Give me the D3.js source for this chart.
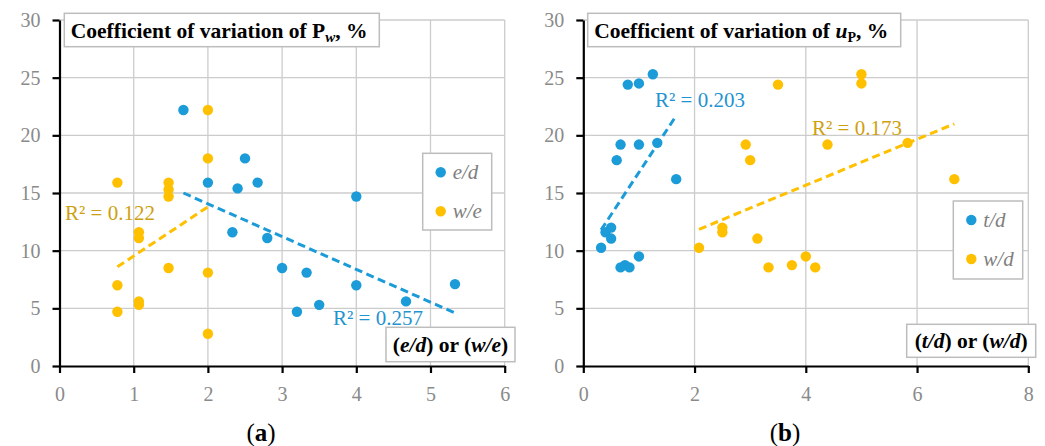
<!DOCTYPE html>
<html>
<head>
<meta charset="utf-8">
<script src="https://cdn.jsdelivr.net/npm/d3@7.9.0/dist/d3.min.js"></script>
<style>
  body { margin: 0; background: #fff; }
  svg { display: block; font-family: "Liberation Serif", "DejaVu Serif", serif; }
</style>
</head>
<body>
<svg width="1045" height="446"></svg>
<script>
// panel (a): coefficient of variation of Pw vs e/d and w/e
const edX = [1.67, 2, 2.4, 2.5, 2.67, 2.33, 2.8, 3, 3.33, 3.2, 3.5, 4, 4, 4.67, 5.33];
const edY = [22.2, 15.9, 15.4, 18.0, 15.9, 11.6, 11.1, 8.5, 8.1, 4.7, 5.3, 7.0, 14.7, 5.6, 7.1];
const weX = [0.78, 0.78, 0.78, 1.07, 1.07, 1.07, 1.07, 1.47, 1.47, 1.47, 1.47, 2, 2, 2, 2];
const weY = [15.9, 7.0, 4.7, 11.6, 11.1, 5.6, 5.3, 15.9, 15.3, 14.7, 8.5, 22.2, 18.0, 8.1, 2.8];
const edTrend = [[1.67, 15.0], [5.33, 4.6]];
const weTrend = [[0.78, 8.6], [2, 13.8]];
const edR2 = 'R² = 0.257';
const weR2 = 'R² = 0.122';

// panel (b): coefficient of variation of uP vs t/d and w/d
const tdX = [0.8, 1.0, 1.25, 0.67, 1.0, 1.33, 0.6, 1.67, 0.32, 0.4, 0.5, 0.5, 0.67, 0.75, 0.83, 1.0];
const tdY = [24.4, 24.5, 25.3, 19.2, 19.2, 19.35, 17.85, 16.2, 10.25, 11.6, 12.0, 11.05, 8.55, 8.75, 8.55, 9.5];
const wdX = [3.5, 5.0, 5.0, 2.92, 4.39, 5.83, 3.0, 6.67, 2.08, 2.5, 2.5, 3.13, 3.33, 3.75, 4.0, 4.17];
const wdY = [24.4, 25.3, 24.5, 19.2, 19.2, 19.35, 17.85, 16.2, 10.25, 12.0, 11.6, 11.05, 8.55, 8.75, 9.5, 8.55];
const tdTrend = [[0.32, 11.8], [1.67, 21.7]];
const wdTrend = [[2.08, 11.85], [6.67, 21.0]];
const tdR2 = 'R² = 0.203';
const wdR2 = 'R² = 0.173';

const yTicks = [0, 5, 10, 15, 20, 25, 30];
const xTicksA = [0, 1, 2, 3, 4, 5, 6];
const xTicksB = [0, 2, 4, 6, 8];

const blue = '#1b9bd8';
const gold = '#ffc000';
const blueText = '#1f94d0';
const goldText = '#cf9f12';

const svg = d3.select('svg');

function drawPanel(p) {
    const x = d3.scaleLinear().domain(p.xDomain).range(p.xRange);
    const y = d3.scaleLinear().domain([0, 30]).range([366, 20]);
    const g = svg.append('g');

    // grid
    g.selectAll('.hgrid').data(yTicks.slice(1)).join('line')
        .attr('x1', p.xRange[0]).attr('x2', p.xRange[1])
        .attr('y1', d => y(d)).attr('y2', d => y(d))
        .attr('stroke', '#cccccc').attr('stroke-width', 1.3);
    g.selectAll('.vgrid').data(p.xTicks.slice(1)).join('line')
        .attr('x1', d => x(d)).attr('x2', d => x(d))
        .attr('y1', y(0)).attr('y2', y(30))
        .attr('stroke', '#cccccc').attr('stroke-width', 1.3);

    // axes
    const fmt = d3.format('d');
    const yAxis = g.append('g').attr('transform', `translate(${p.xRange[0]},0)`)
        .call(d3.axisLeft(y).tickValues(yTicks).tickFormat(fmt).tickSize(7).tickSizeOuter(0).tickPadding(12));
    const xAxis = g.append('g').attr('transform', `translate(0,${y(0)})`)
        .call(d3.axisBottom(x).tickValues(p.xTicks).tickFormat(fmt).tickSize(7).tickSizeOuter(0).tickPadding(14));
    [yAxis, xAxis].forEach(a => {
        a.select('.domain').attr('stroke', '#000').attr('stroke-width', 2.2);
        a.selectAll('.tick line').attr('stroke', '#000').attr('stroke-width', 2.2);
        a.selectAll('.tick text').attr('font-family', '"Liberation Serif", serif')
            .attr('font-size', 20).attr('fill', '#8a8a8a');
    });

    // trend lines
    const line = d3.line().x(d => x(d[0])).y(d => y(d[1]));
    p.series.forEach(s => {
        g.append('path').attr('d', line(s.trend))
            .attr('fill', 'none').attr('stroke', s.color)
            .attr('stroke-width', 3).attr('stroke-dasharray', '8,4.5');
    });

    // points: second series first (blue drawn on top)
    [...p.series].reverse().forEach(s => {
        g.selectAll(null).data(d3.zip(s.xs, s.ys)).join('circle')
            .attr('cx', d => x(d[0])).attr('cy', d => y(d[1]))
            .attr('r', 5.2).attr('fill', s.color);
    });

    // R² labels
    p.series.forEach(s => {
        g.append('text').attr('x', s.r2Pos[0]).attr('y', s.r2Pos[1])
            .attr('fill', s.textColor).attr('font-size', 21).text(s.r2);
    });

    // title box
    g.append('rect').attr('x', p.titleBox[0]).attr('y', p.titleBox[1])
        .attr('width', p.titleBox[2]).attr('height', p.titleBox[3])
        .attr('fill', '#fff').attr('stroke', '#bdbdbd').attr('stroke-width', 1.5);
    const t = g.append('text').attr('x', p.titleBox[0] + 6.5).attr('y', p.titleBox[1] + 25)
        .attr('font-size', 21.5).attr('font-weight', 'bold').attr('fill', '#000');
    p.title(t);

    // legend
    const lb = p.legendBox;
    g.append('rect').attr('x', lb[0]).attr('y', lb[1]).attr('width', lb[2]).attr('height', lb[3])
        .attr('fill', '#fff').attr('stroke', '#bdbdbd').attr('stroke-width', 1.5);
    p.series.forEach((s, i) => {
        const cy = lb[1] + 19 + i * 39;
        g.append('circle').attr('cx', lb[0] + 18).attr('cy', cy).attr('r', 5.2).attr('fill', s.color);
        g.append('text').attr('x', lb[0] + 30).attr('y', cy + 6.5)
            .attr('font-size', 21).attr('font-style', 'italic').attr('fill', '#7f7f7f').text(s.name);
    });

    // axis title box
    const ab = p.axisBox;
    g.append('rect').attr('x', ab[0]).attr('y', ab[1]).attr('width', ab[2]).attr('height', ab[3])
        .attr('fill', '#fff').attr('stroke', '#bdbdbd').attr('stroke-width', 1.5);
    const at = g.append('text').attr('x', ab[0] + ab[2] / 2).attr('y', ab[1] + ab[3] / 2 + 7)
        .attr('text-anchor', 'middle').attr('font-size', 21.5).attr('font-weight', 'bold');
    at.append('tspan').text('(');
    at.append('tspan').attr('font-style', 'italic').text(p.series[0].name);
    at.append('tspan').text(') or (');
    at.append('tspan').attr('font-style', 'italic').text(p.series[1].name);
    at.append('tspan').text(')');

    // caption
    const c = svg.append('text').attr('x', p.caption[0]).attr('y', p.caption[1])
        .attr('text-anchor', 'middle').attr('font-size', 25);
    c.append('tspan').text('(');
    c.append('tspan').attr('font-weight', 'bold').text(p.captionLetter);
    c.append('tspan').text(')');
}

drawPanel({
    xDomain: [0, 6], xRange: [59.5, 504.7], xTicks: xTicksA,
    series: [
        { name: 'e/d', xs: edX, ys: edY, trend: edTrend, color: blue, textColor: blueText, r2: edR2, r2Pos: [333, 325] },
        { name: 'w/e', xs: weX, ys: weY, trend: weTrend, color: gold, textColor: goldText, r2: weR2, r2Pos: [65, 220] }
    ],
    titleBox: [64.3, 13.3, 315, 33.4],
    title: t => {
        t.append('tspan').text('Coefficient of variation of P');
        t.append('tspan').attr('font-style', 'italic').attr('font-size', 15).attr('dy', 4).text('w');
        t.append('tspan').attr('dy', -4).text(', %');
    },
    legendBox: [422.7, 153.3, 69, 76.7],
    axisBox: [386, 327.3, 129, 34.4],
    caption: [261, 441], captionLetter: 'a'
});

drawPanel({
    xDomain: [0, 8], xRange: [583.3, 1028.3], xTicks: xTicksB,
    series: [
        { name: 't/d', xs: tdX, ys: tdY, trend: tdTrend, color: blue, textColor: blueText, r2: tdR2, r2Pos: [655, 107] },
        { name: 'w/d', xs: wdX, ys: wdY, trend: wdTrend, color: gold, textColor: goldText, r2: wdR2, r2Pos: [812, 135] }
    ],
    titleBox: [587.7, 13.3, 313, 33.4],
    title: t => {
        t.append('tspan').text('Coefficient of variation of ');
        t.append('tspan').attr('font-style', 'italic').text('u');
        t.append('tspan').attr('font-size', 14).attr('dy', 4).text('P');
        t.append('tspan').attr('dy', -4).text(', %');
    },
    legendBox: [953.3, 201, 69.4, 78],
    axisBox: [906.7, 324.3, 129, 33],
    caption: [785, 441], captionLetter: 'b'
});
</script>
</body>
</html>
